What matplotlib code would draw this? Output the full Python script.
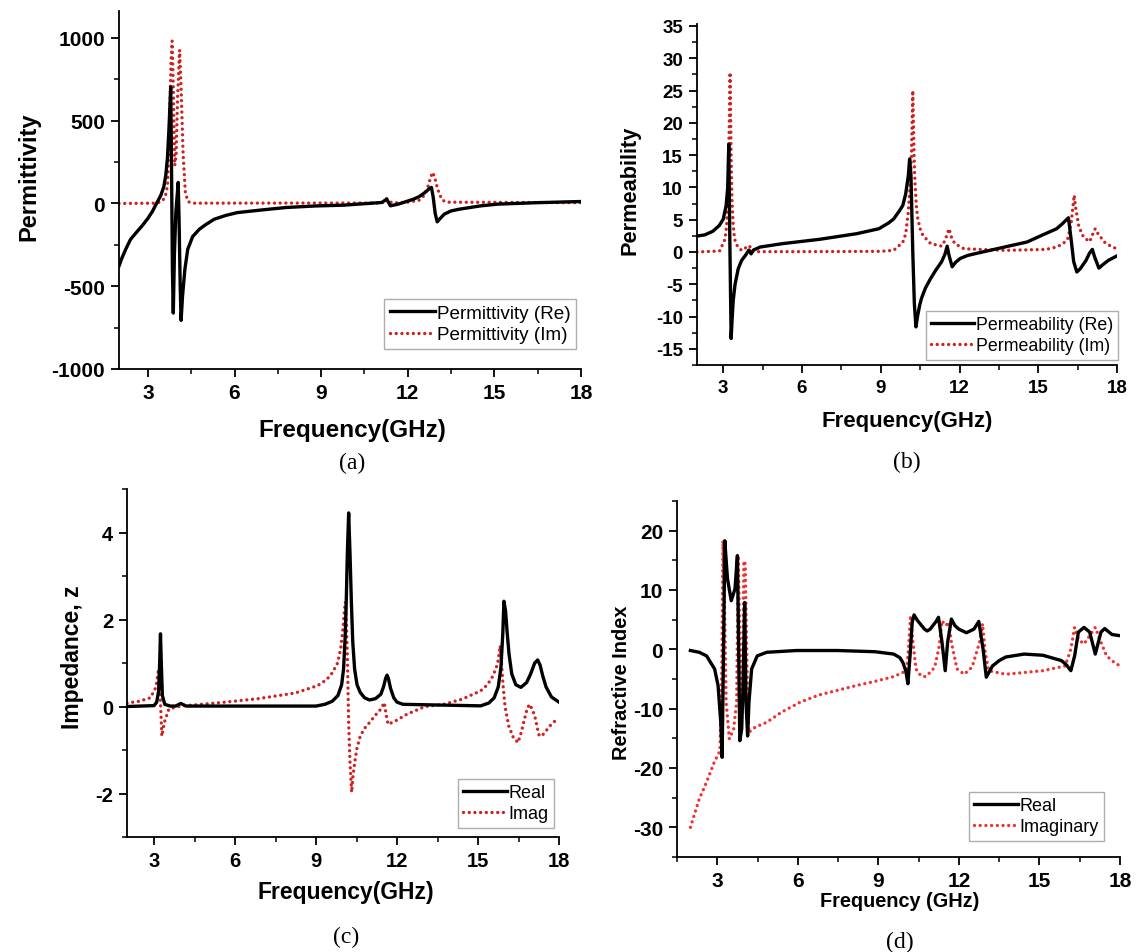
import matplotlib
matplotlib.use("Agg")
import matplotlib.pyplot as plt
from matplotlib.ticker import MultipleLocator

plt.rcParams['font.family'] = ['Liberation Sans', 'DejaVu Sans']
plt.rcParams['axes.unicode_minus'] = False

# ---- (a) permittivity ----
eps_re_f = [2.0, 2.1, 2.25, 2.4, 2.6, 2.8, 3.0, 3.15, 3.3, 3.45, 3.55, 3.62, 3.68, 3.73, 3.77,
            3.79, 3.81, 3.85, 3.88, 3.92, 3.97, 4.02, 4.05, 4.08, 4.12, 4.15, 4.2, 4.28, 4.38,
            4.55, 4.78, 5.0, 5.3, 5.7, 6.1, 7.0, 7.8, 8.8, 9.8, 10.6, 11.1, 11.27, 11.4,
            11.67, 12.2, 12.4, 12.6, 12.75, 12.82, 12.88, 12.95, 13.02, 13.1, 13.26, 13.5,
            13.8, 14.5, 15.1, 16.5, 18.0]
eps_re = [-378, -330, -270, -217, -175, -135, -90, -50, 0, 50, 100, 170, 280, 450, 620,
          704, 400, -400, -662, -300, -50, 60, 127, -100, -500, -706, -560, -400, -277,
          -200, -156, -128, -95, -72, -55, -38, -24, -15, -10, 0, 6, 26, -14,
          -4, 26, 42, 67, 90, 97, 40, -60, -111, -95, -65, -45,
          -34, -15, -4, 5, 12]
eps_im_f = [2.0, 3.3, 3.5, 3.6, 3.68, 3.74, 3.8, 3.84, 3.88, 3.93, 3.98, 4.03, 4.1, 4.15,
            4.22, 4.3, 4.4, 4.6, 11.1, 11.27, 11.45, 12.0, 12.4, 12.55, 12.68, 12.78, 12.86,
            12.93, 13.0, 13.1, 13.2, 13.35, 18.0]
eps_im = [0, 2, 15, 40, 107, 400, 850, 982, 700, 229, 300, 650, 927, 700,
          300, 60, 10, 2, 3, 30, 3, 8, 20, 45, 90, 150, 188,
          160, 110, 55, 20, 8, 5]

# ---- (b) permeability ----
mu_re_f = [2.0, 2.3, 2.6, 2.85, 3.0, 3.11, 3.17, 3.21, 3.25, 3.30, 3.33, 3.38, 3.45, 3.57,
           3.7, 3.85, 3.98, 4.06, 4.15, 4.41, 5.26, 6.67, 8.08, 8.93, 9.3, 9.49, 9.7, 9.84,
           9.95, 10.05, 10.1, 10.15, 10.22, 10.28, 10.34, 10.4, 10.48, 10.55, 10.7, 10.9,
           11.1, 11.32, 11.45, 11.53, 11.6, 11.72, 11.85, 12.03, 12.3, 12.6, 13.72, 14.57,
           15.13, 15.7, 15.9, 16.05, 16.15, 16.25, 16.35, 16.47, 16.6, 16.82, 16.95, 17.06,
           17.15, 17.31, 17.45, 17.67, 18.0]
mu_re = [2.47, 2.65, 3.2, 4.1, 5.1, 7.2, 10, 16.7, 2, -13.4, -11, -7.5, -5, -2.6,
         -1.3, -0.5, 0.3, -0.3, 0.3, 0.77, 1.29, 1.96, 2.83, 3.6, 4.5, 5.1, 6.3, 7.2,
         9, 11.8, 14.4, 12, 0, -8, -11.6, -10, -8.3, -7.2, -5.6, -4.1,
         -2.8, -1.5, -0.3, 0.9, -0.5, -2.3, -1.6, -1.0, -0.55, -0.26, 0.77, 1.54,
         2.57, 3.6, 4.3, 4.9, 5.3, 2, -1.5, -3.1, -2.6, -1.3, -0.2, 0.4,
         -0.8, -2.5, -2.0, -1.3, -0.6]
mu_im_f = [2.0, 2.86, 3.07, 3.13, 3.17, 3.21, 3.26, 3.3, 3.33, 3.38, 3.43, 3.55, 3.7, 3.99,
           4.13, 6.0, 9.0, 9.49, 9.84, 9.95, 10.05, 10.12, 10.17, 10.22, 10.27, 10.3, 10.35,
           10.4, 10.5, 10.6, 10.9, 11.32, 11.45, 11.6, 11.7, 11.82, 12.17, 13.72, 15.3, 15.7,
           15.95, 16.12, 16.25, 16.32, 16.37, 16.42, 16.54, 16.68, 16.82, 16.96, 17.08,
           17.17, 17.28, 17.53, 17.8, 18.0]
mu_im = [0, 0.15, 2, 4.2, 8.2, 15, 27.8, 15, 8.2, 4.2, 2, 0.8, 0.25, 1.0,
         0.05, 0.05, 0.1, 0.25, 1.5, 2.8, 6.2, 10.5, 15, 25, 15, 11, 7.5,
         5.4, 3.6, 2.6, 1.3, 0.9, 1.8, 3.6, 2.2, 1.3, 0.5, 0.25, 0.4, 0.77,
         1.3, 2, 4.3, 7, 8.8, 7, 4.1, 2.6, 2, 1.6, 2.8,
         3.6, 2.8, 1.5, 0.8, 0.5]

# ---- (c) impedance ----
z_re_f = [2.0, 3.0, 3.1, 3.17, 3.21, 3.24, 3.27, 3.31, 3.4, 3.6, 3.8, 3.99, 4.2, 9.0, 9.33,
          9.6, 9.81, 9.95, 10.02, 10.08, 10.12, 10.16, 10.21, 10.26, 10.31, 10.36, 10.43,
          10.52, 10.64, 10.8, 10.98, 11.2, 11.4, 11.5, 11.58, 11.63, 11.68, 11.76, 11.88,
          12.0, 12.22, 15.1, 15.4, 15.6, 15.75, 15.85, 15.92, 15.96, 16.02, 16.08, 16.15,
          16.25, 16.4, 16.59, 16.8, 16.95, 17.1, 17.21, 17.3, 17.4, 17.52, 17.72, 18.0]
z_re = [0, 0.02, 0.1, 0.35, 1.0, 1.67, 1.0, 0.25, 0.05, 0.01, 0.01, 0.07, 0.01, 0.01, 0.05,
        0.12, 0.25, 0.5, 0.86, 1.6, 2.4, 3.5, 4.45, 3.5, 2.4, 1.5, 0.86,
        0.5, 0.32, 0.2, 0.15, 0.18, 0.28, 0.45, 0.65, 0.72, 0.65, 0.42, 0.2,
        0.1, 0.05, 0.015, 0.08, 0.2, 0.45, 0.9, 1.7, 2.42, 2.2, 1.7, 1.2,
        0.75, 0.5, 0.44, 0.55, 0.75, 1.0, 1.07, 0.95, 0.7, 0.45, 0.22, 0.1]
z_im_f = [2.0, 2.45, 2.87, 3.07, 3.17, 3.24, 3.29, 3.38, 3.55, 3.83, 4.1, 5.48, 6.86, 8.23,
          9.06, 9.4, 9.61, 9.8, 9.92, 10.0, 10.06, 10.09, 10.13, 10.17, 10.21, 10.26, 10.32,
          10.37, 10.43, 10.52, 10.64, 10.8, 10.98, 11.2, 11.4, 11.53, 11.6, 11.67, 11.95,
          12.36, 13.04, 13.73, 14.42, 15.1, 15.35, 15.52, 15.65, 15.73, 15.79, 15.82, 15.88,
          15.93, 16.0, 16.14, 16.3, 16.48, 16.6, 16.69, 16.8, 16.9, 17.0, 17.1, 17.2, 17.27,
          17.4, 17.52, 17.7, 17.93]
z_im = [0.08, 0.12, 0.2, 0.44, 0.86, 0.1, -0.68, -0.37, -0.06, -0.01, 0.015, 0.09, 0.18, 0.31,
        0.48, 0.62, 0.78, 1.0, 1.35, 1.8, 2.25, 2.4, 1.9, 0.9, -0.4, -1.3, -1.97,
        -1.6, -1.3, -0.95, -0.68, -0.5, -0.37, -0.2, -0.06, 0.09, -0.2, -0.41, -0.33,
        -0.18, 0, 0.05, 0.17, 0.36, 0.5, 0.67, 0.85, 1.0, 1.25, 1.4, 0.9,
        0.48, 0.0, -0.45, -0.7, -0.83, -0.6, -0.37, -0.1, 0.05, -0.05, -0.21, -0.5, -0.68,
        -0.65, -0.56, -0.42, -0.29]

# ---- (d) refractive index ----
n_re_f = [2.0, 2.33, 2.6, 2.9, 3.03, 3.13, 3.18, 3.24, 3.28, 3.38, 3.52, 3.66, 3.75, 3.79,
          3.84, 3.91, 3.96, 4.02, 4.07, 4.13, 4.18, 4.28, 4.49, 4.84, 5.95, 7.48, 8.87,
          9.57, 9.8, 9.91, 10.02, 10.1, 10.19, 10.26, 10.33, 10.45, 10.61, 10.72, 10.82,
          10.93, 11.03, 11.15, 11.24, 11.37, 11.49, 11.58, 11.72, 11.85, 12.0, 12.28, 12.56,
          12.74, 12.9, 13.02, 13.25, 13.5, 13.74, 14.43, 15.13, 15.82, 16.0, 16.17, 16.31,
          16.45, 16.66, 16.87, 17.08, 17.29, 17.43, 17.7, 18.0]
n_re = [-0.2, -0.5, -1.1, -3.3, -6.1, -12.3, -18.2, 2.3, 18.3, 11.9, 8.2, 10.2, 15.8, 2.3,
        -15.4, -13.4, -6.1, 7.9, -8.9, -14.6, -8.9, -3.3, -1.1, -0.5, -0.2, -0.2, -0.4,
        -0.8, -1.4, -2.2, -3.6, -5.8, -0.5, 4.6, 5.8, 4.9, 4.0, 3.4, 3.1,
        3.4, 4.0, 4.7, 5.4, 1.2, -3.6, 1.2, 5.1, 4.0, 3.4, 2.8, 3.4,
        4.7, 0.05, -4.7, -2.8, -1.9, -1.3, -0.8, -1.0, -1.9, -2.6, -3.6, -1.1,
        2.9, 3.7, 2.9, -0.8, 2.9, 3.5, 2.5, 2.3]
n_im_f = [2.0, 2.33, 2.6, 2.89, 3.1, 3.17, 3.21, 3.27, 3.33, 3.45, 3.61, 3.72, 3.78, 3.84,
          3.89, 3.95, 3.99, 4.04, 4.11, 4.17, 4.42, 4.84, 5.39, 6.09, 6.78, 7.48, 8.18,
          8.87, 9.57, 10.05, 10.12, 10.2, 10.29, 10.4, 10.5, 10.6, 10.75, 10.95, 11.1, 11.27,
          11.37, 11.51, 11.62, 11.72, 11.93, 12.2, 12.49, 12.77, 12.88, 12.98, 13.11, 13.74,
          15.13, 15.96, 16.17, 16.31, 16.45, 16.66, 16.87, 17.08, 17.29, 17.5, 17.78, 18.0]
n_im = [-30, -25.2, -22.4, -19, -17.1, -3.3, 18.3, 7.9, -8.9, -15.1, -13.4, -8.9, 15.8, 2.3,
        -14, -3.3, 14.9, 14.4, -3.3, -14, -13.1, -12.3, -10.6, -8.9, -7.7, -6.9, -6.1,
        -5.4, -4.6, -3.6, 0.05, 5.7, 1.2, -3.3, -4.0, -4.5, -4.6, -3.8, -3.0, 0.6,
        4.8, 4.0, 4.6, 1.2, -3.3, -4.2, -3.0, 1.2, 4.3, -0.5, -3.6, -4.2,
        -3.6, -2.8, 0.05, 3.7, 1.7, 0.9, 2.3, 3.7, 1.2, -1.1, -2.2, -2.8]

W, H = 1143, 953
fig = plt.figure(figsize=(W / 100, H / 100), dpi=100)


def px_axes(l, r, t, b):
    return fig.add_axes([l / W, 1 - b / H, (r - l) / W, (b - t) / H])


def style(ax, xlim, ylim, yticks, yminor, tick_fs, xminor=1.5):
    ax.set_xlim(*xlim)
    ax.set_ylim(*ylim)
    ax.set_xticks([3, 6, 9, 12, 15, 18])
    ax.set_yticks(yticks)
    ax.xaxis.set_minor_locator(MultipleLocator(xminor))
    ax.yaxis.set_minor_locator(MultipleLocator(yminor))
    for s in ['top', 'right']:
        ax.spines[s].set_visible(False)
    for s in ['left', 'bottom']:
        ax.spines[s].set_linewidth(1.3)
    ax.tick_params(which='major', direction='out', length=6, width=1.3, labelsize=tick_fs, pad=4)
    ax.tick_params(which='minor', direction='out', length=3.5, width=1.1)
    for lab in ax.get_xticklabels() + ax.get_yticklabels():
        lab.set_fontweight('bold')


def draw(ax, f1, y1, f2, y2, lab1, lab2, red, legpos, leg_fs):
    ax.plot(f1, y1, color='black', lw=2.4, label=lab1, zorder=3)
    ax.plot(f2, y2, color=red, lw=2.4, linestyle=(0, (0.01, 1.7)),
            dash_capstyle='round', label=lab2, zorder=2)
    leg = ax.legend(loc='upper left', bbox_to_anchor=(legpos[0] / W, 1 - legpos[1] / H),
                    bbox_transform=fig.transFigure, fontsize=leg_fs, frameon=True,
                    fancybox=False, borderpad=0.3, labelspacing=0.22, handlelength=2.4,
                    handletextpad=0.1, borderaxespad=0)
    leg.get_frame().set_edgecolor('#999999')
    leg.get_frame().set_linewidth(1.0)


red_dark = '#cc2222'
red_light = '#ee3333'

# (a)
ax_a = px_axes(119, 581, 12, 370)
draw(ax_a, eps_re_f, eps_re, eps_im_f, eps_im, 'Permittivity (Re)', 'Permittivity (Im)',
     red_dark, (384, 300), 13.6)
style(ax_a, (2, 18), (-1000, 1163), [-1000, -500, 0, 500, 1000], 250, 15)
fig.text(352 / W, 1 - 431 / H, 'Frequency(GHz)', ha='center', va='center', fontsize=17.5, fontweight='bold')
fig.text(29 / W, 1 - 177 / H, 'Permittivity', ha='center', va='center', rotation=90, fontsize=17, fontweight='bold')
fig.text(352 / W, 1 - 463 / H, '(a)', ha='center', va='center', fontsize=17, family='Liberation Serif')

# (b)
ax_b = px_axes(697, 1117, 25, 366)
draw(ax_b, mu_re_f, mu_re, mu_im_f, mu_im, 'Permeability (Re)', 'Permeability (Im)',
     red_dark, (926, 312), 12.8)
style(ax_b, (2, 18), (-17.5, 35.3), list(range(-15, 36, 5)), 2.5, 13.5)
fig.text(907 / W, 1 - 422 / H, 'Frequency(GHz)', ha='center', va='center', fontsize=16, fontweight='bold')
fig.text(630 / W, 1 - 190 / H, 'Permeability', ha='center', va='center', rotation=90, fontsize=15.7, fontweight='bold')
fig.text(907 / W, 1 - 462 / H, '(b)', ha='center', va='center', fontsize=17, family='Liberation Serif')

# (c)
ax_c = px_axes(127, 559, 490, 838)
draw(ax_c, z_re_f, z_re, z_im_f, z_im, 'Real', 'Imag', red_dark, (458, 780), 13)
style(ax_c, (2, 18), (-3, 5), [-2, 0, 2, 4], 1, 14.5)
fig.text(346 / W, 1 - 893 / H, 'Frequency(GHz)', ha='center', va='center', fontsize=16.5, fontweight='bold')
fig.text(73 / W, 1 - 657 / H, 'Impedance, z', ha='center', va='center', rotation=90, fontsize=16.5, fontweight='bold')
fig.text(346 / W, 1 - 937 / H, '(c)', ha='center', va='center', fontsize=17, family='Liberation Serif')

# (d)
ax_d = px_axes(677, 1120, 502, 858)
draw(ax_d, n_re_f, n_re, n_im_f, n_im, 'Real', 'Imaginary', red_light, (969, 793), 13)
style(ax_d, (1.5, 18), (-35, 25), [-30, -20, -10, 0, 10, 20], 5, 15)
fig.text(900 / W, 1 - 902 / H, 'Frequency (GHz)', ha='center', va='center', fontsize=14.3, fontweight='bold')
fig.text(622 / W, 1 - 683 / H, 'Refractive Index', ha='center', va='center', rotation=90, fontsize=14.4, fontweight='bold')
fig.text(900 / W, 1 - 942 / H, '(d)', ha='center', va='center', fontsize=17, family='Liberation Serif')

fig.savefig('out.png', dpi=100, facecolor='white')
